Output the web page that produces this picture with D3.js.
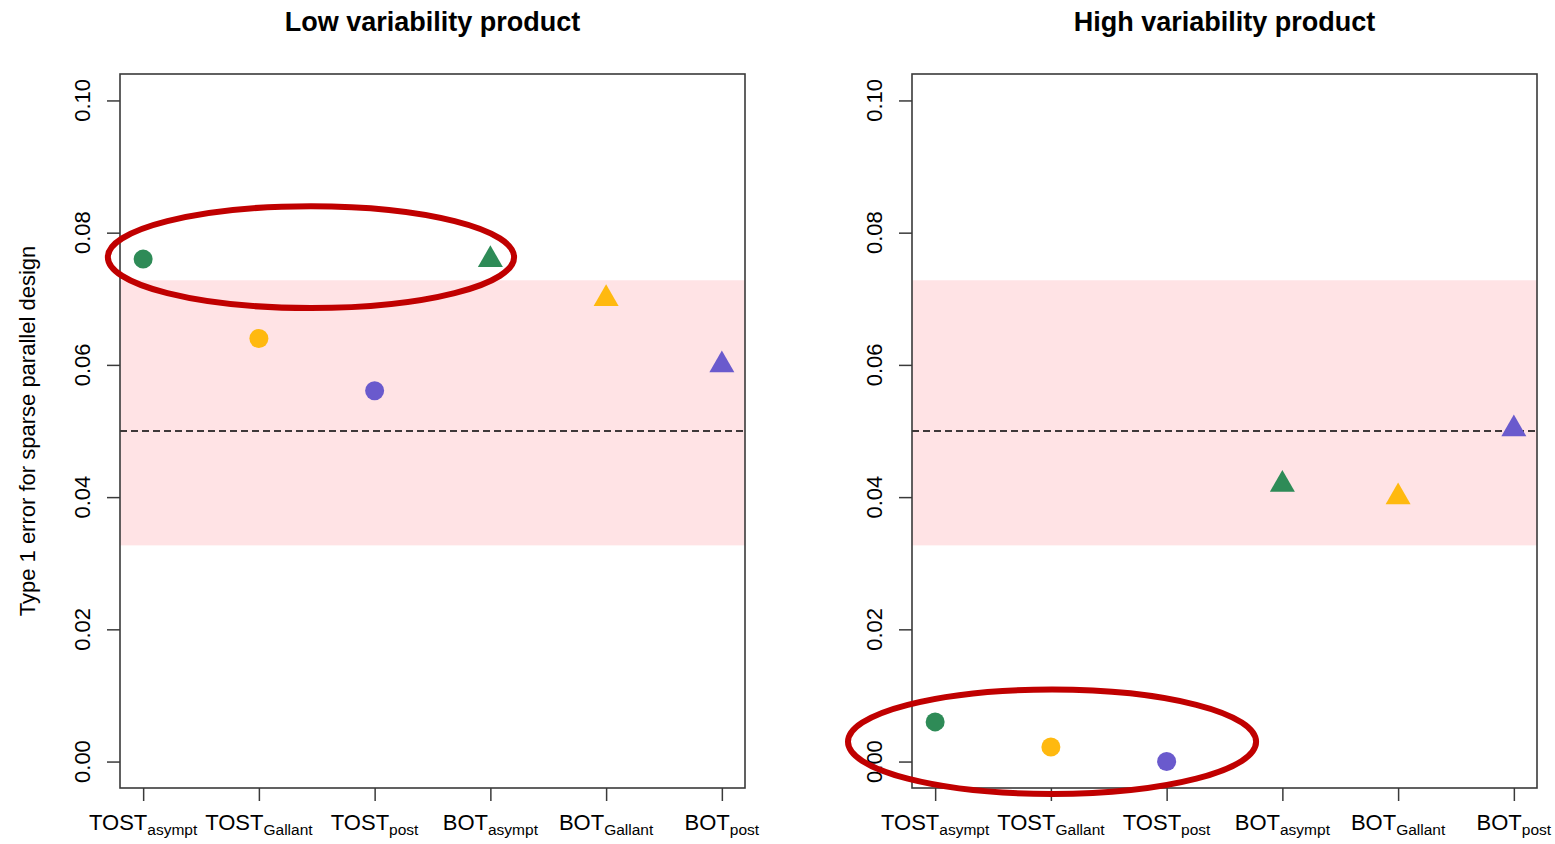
<!DOCTYPE html>
<html>
<head>
<meta charset="utf-8">
<script src="https://cdn.jsdelivr.net/npm/d3@7"></script>
<style>
  html, body { margin: 0; padding: 0; background: #fff; }
  svg { display: block; font-family: Arial, "Liberation Sans", sans-serif; }
</style>
</head>
<body>
<svg id="chart" width="1555" height="844"></svg>
<script>
// ---- data ----
const labelMain = ["TOST", "TOST", "TOST", "BOT", "BOT", "BOT"];
const labelSub = ["asympt", "Gallant", "post", "asympt", "Gallant", "post"];
const shapes = ["circle", "circle", "circle", "triangle", "triangle", "triangle"];
const pointColors = ["#2E8B57", "#FFB90F", "#6A5ACD", "#2E8B57", "#FFB90F", "#6A5ACD"];
const panelTitles = ["Low variability product", "High variability product"];
const lowValues = [0.0760, 0.0640, 0.0561, 0.0759, 0.0700, 0.0600];
const highValues = [0.0060, 0.0022, 0.0000, 0.0419, 0.0400, 0.0503];
const yTicks = [0.00, 0.02, 0.04, 0.06, 0.08, 0.10];
const yTickLabels = ["0.00", "0.02", "0.04", "0.06", "0.08", "0.10"];
const band = [0.0327, 0.0728];
const nominal = 0.05;
const yTitle = "Type 1 error for sparse parallel design";
// highlight ellipses (data units: center x index, center y, x radius, y radius)
const lowEllipse = [2.45, 0.0763, 1.755, 0.0077];
const highEllipse = [2.01, 0.0030, 1.763, 0.0079];

// ---- layout ----
const svg = d3.select("#chart");
const panels = [
  { left: 120, values: lowValues, title: panelTitles[0], ellipse: lowEllipse, showYTitle: true },
  { left: 912, values: highValues, title: panelTitles[1], ellipse: highEllipse, showYTitle: false }
];
const plotTop = 74, plotW = 625, plotH = 714;
const axisColor = "#3a3a3a";

panels.forEach(p => {
  const g = svg.append("g");
  const x = d3.scaleLinear().domain([0.8, 6.2]).range([p.left, p.left + plotW]);
  const y = d3.scaleLinear().domain([-0.004, 0.104]).range([plotTop + plotH, plotTop]);

  // band
  g.append("rect")
    .attr("x", x(0.8)).attr("width", x(6.2) - x(0.8))
    .attr("y", y(band[1])).attr("height", y(band[0]) - y(band[1]))
    .attr("fill", "#FFE3E5");

  // dashed reference
  g.append("line")
    .attr("x1", x(0.8)).attr("x2", x(6.2))
    .attr("y1", y(nominal)).attr("y2", y(nominal))
    .attr("stroke", "#000").attr("stroke-width", 1.3)
    .attr("stroke-dasharray", "7,4");

  // points
  const idx = d3.range(p.values.length);
  idx.forEach(i => {
    const cx = x(i + 1), cy = y(p.values[i]);
    if (shapes[i] === "circle") {
      g.append("circle").attr("cx", cx).attr("cy", cy).attr("r", 9.5)
        .attr("fill", pointColors[i]);
    } else {
      const r = 14.5, hx = 12.5;
      g.append("path")
        .attr("d", `M${cx},${cy - r}L${cx + hx},${cy + r / 2}L${cx - hx},${cy + r / 2}Z`)
        .attr("fill", pointColors[i]);
    }
  });

  // y axis
  const yAxis = d3.axisLeft(y).tickValues(yTicks).tickSize(13).tickFormat("");
  const ya = g.append("g").attr("transform", `translate(${p.left},0)`).call(yAxis);
  ya.select(".domain").attr("stroke", "none");
  ya.selectAll(".tick line").attr("stroke", axisColor).attr("stroke-width", 1.5);
  yTicks.forEach((t, i) => {
    g.append("text")
      .attr("transform", `translate(${p.left - 30},${y(t)}) rotate(-90)`)
      .attr("text-anchor", "middle")
      .attr("font-size", 22)
      .attr("fill", "#000")
      .text(yTickLabels[i]);
  });

  // x axis
  const xAxis = d3.axisBottom(x).tickValues(d3.range(1, 7)).tickSize(13).tickFormat("");
  const xa = g.append("g").attr("transform", `translate(0,${plotTop + plotH})`).call(xAxis);
  xa.select(".domain").attr("stroke", "none");
  xa.selectAll(".tick line").attr("stroke", axisColor).attr("stroke-width", 1.5);
  idx.forEach(i => {
    const t = g.append("text")
      .attr("x", x(i + 1)).attr("y", 830)
      .attr("text-anchor", "middle")
      .attr("fill", "#000");
    t.append("tspan").attr("font-size", 22).text(labelMain[i]);
    t.append("tspan").attr("font-size", 15.5).attr("dy", 5).text(labelSub[i]);
  });

  // box
  g.append("rect")
    .attr("x", p.left).attr("y", plotTop).attr("width", plotW).attr("height", plotH)
    .attr("fill", "none").attr("stroke", axisColor).attr("stroke-width", 1.6);

  // title
  g.append("text")
    .attr("x", p.left + plotW / 2).attr("y", 31)
    .attr("text-anchor", "middle")
    .attr("font-size", 27).attr("font-weight", "bold")
    .attr("fill", "#000")
    .text(p.title);

  if (p.showYTitle) {
    g.append("text")
      .attr("transform", `translate(35,${plotTop + plotH / 2}) rotate(-90)`)
      .attr("text-anchor", "middle")
      .attr("font-size", 22)
      .attr("fill", "#000")
      .text(yTitle);
  }

  // highlight ellipse
  const e = p.ellipse;
  g.append("ellipse")
    .attr("cx", x(e[0])).attr("cy", y(e[1]))
    .attr("rx", x(e[0] + e[2]) - x(e[0]))
    .attr("ry", y(e[1]) - y(e[1] + e[3]))
    .attr("fill", "none").attr("stroke", "#C00000").attr("stroke-width", 6);
});
</script>
</body>
</html>
